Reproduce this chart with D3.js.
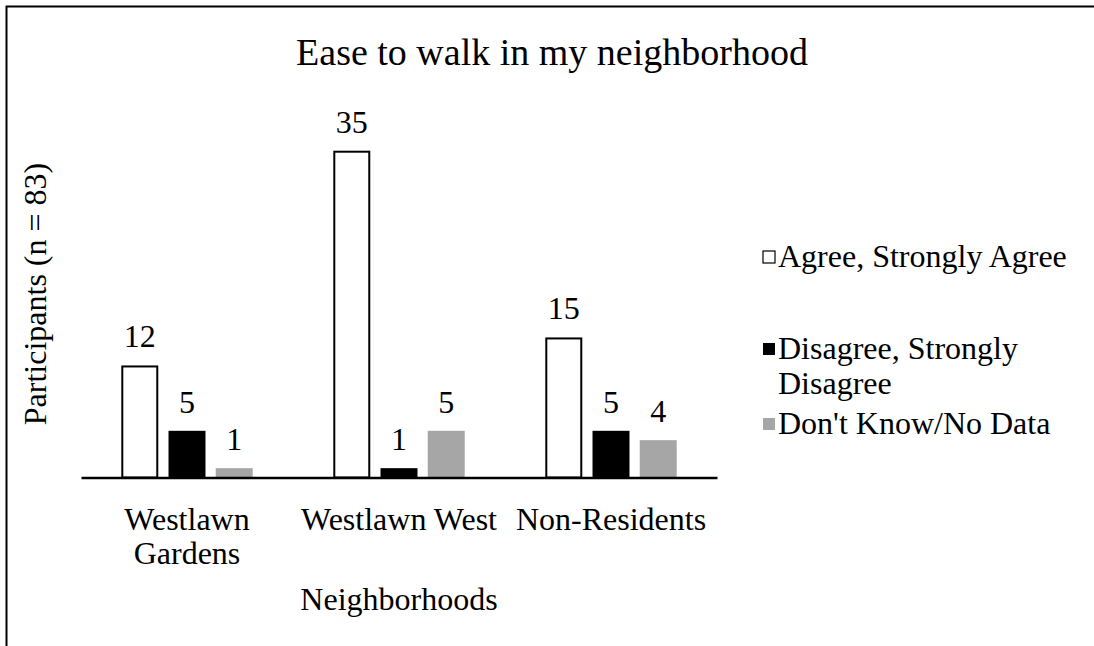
<!DOCTYPE html>
<html>
<head>
<meta charset="utf-8">
<script src="https://cdn.jsdelivr.net/npm/d3@7"></script>
<style>
  html, body { margin: 0; padding: 0; background: #fff; overflow: hidden; width: 1094px; height: 646px; }
  svg { display: block; position: absolute; left: 0; top: 0; }
</style>
</head>
<body>
<svg id="chart" width="1094" height="646"></svg>
<script>
const categories = [["Westlawn", "Gardens"], ["Westlawn West"], ["Non-Residents"]];
const seriesNames = ["Agree, Strongly Agree", "Disagree, Strongly Disagree", "Don't Know/No Data"];
const legendLines = [["Agree, Strongly Agree"], ["Disagree, Strongly", "Disagree"], ["Don't Know/No Data"]];
const agree = [12, 35, 15];
const disagree = [5, 1, 5];
const dontKnow = [1, 5, 4];
const title = "Ease to walk in my neighborhood";
const yTitle = "Participants (n = 83)";
const xTitle = "Neighborhoods";

const seriesValues = [agree, disagree, dontKnow];
const fills = ["#ffffff", "#000000", "#a6a6a6"];
const strokes = ["#000000", "none", "none"];
const FONT = "'Liberation Serif', 'Times New Roman', Times, 'DejaVu Serif', serif";
const FS = 32;

const svg = d3.select("#chart").attr("font-family", FONT);
const W = 1094, H = 646;

svg.append("rect").attr("x", 0).attr("y", 0).attr("width", W).attr("height", H).attr("fill", "#fff");

// Frame (only top and left edges visible)
svg.append("path").attr("d", `M6.5,${H + 5} L6.5,6.5 L${W + 5},6.5`)
  .attr("fill", "none").attr("stroke", "#000").attr("stroke-width", 2);

const catKeys = categories.map(c => c.join(" "));
const x0 = d3.scaleBand().domain(catKeys).range([81, 717]).paddingInner(0).paddingOuter(0);
const x1 = d3.scaleBand().domain(seriesNames).range([40.3, x0.bandwidth() - 40.3]).paddingInner(0.217).paddingOuter(0);
const y = d3.scaleLinear().domain([0, 35]).range([477.5, 150.7]);

// Bars
const groups = svg.append("g").selectAll("g").data(catKeys).join("g")
  .attr("transform", d => `translate(${x0(d)},0)`);

groups.each(function(cat, ci) {
  const g = d3.select(this);
  seriesNames.forEach((s, si) => {
    const v = seriesValues[si][ci];
    const isOutlined = strokes[si] !== "none";
    g.append("rect")
      .attr("x", x1(s) + (isOutlined ? 1 : 0))
      .attr("y", y(v) + (isOutlined ? 1 : 0))
      .attr("width", x1.bandwidth() - (isOutlined ? 2 : 0))
      .attr("height", y(0) - y(v) - (isOutlined ? 1 : 0))
      .attr("fill", fills[si])
      .attr("stroke", strokes[si])
      .attr("stroke-width", 2);
    g.append("text")
      .attr("x", x1(s) + x1.bandwidth() / 2)
      .attr("y", y(v) - 18)
      .attr("text-anchor", "middle")
      .attr("font-size", FS)
      .text(v);
  });
});

// X axis line
const xAxis = d3.axisBottom(x0).tickSize(0).tickFormat("");
const axG = svg.append("g").attr("transform", `translate(0,${y(0)})`).call(xAxis);
axG.select(".domain").attr("stroke", "#000").attr("stroke-width", 2.5);

// Category labels
categories.forEach((lines, i) => {
  const cx = x0(catKeys[i]) + x0.bandwidth() / 2;
  lines.forEach((ln, j) => {
    svg.append("text").attr("x", cx).attr("y", 530 + j * 34)
      .attr("text-anchor", "middle").attr("font-size", FS).text(ln);
  });
});

// Axis titles
svg.append("text").attr("x", 399).attr("y", 610).attr("text-anchor", "middle")
  .attr("font-size", FS).text(xTitle);
svg.append("text").attr("transform", "translate(46,294) rotate(-90)")
  .attr("text-anchor", "middle").attr("font-size", FS).text(yTitle);

// Title
svg.append("text").attr("x", 552).attr("y", 65).attr("text-anchor", "middle")
  .attr("font-size", 38).text(title);

// Legend
const legendY = [267, 359, 434];
legendLines.forEach((lines, i) => {
  svg.append("rect").attr("x", 763).attr("y", legendY[i] - 16).attr("width", 12).attr("height", 12)
    .attr("fill", fills[i]).attr("stroke", strokes[i] === "none" ? "none" : "#000").attr("stroke-width", 1.2);
  lines.forEach((ln, j) => {
    svg.append("text").attr("x", 778).attr("y", legendY[i] + j * 35)
      .attr("font-size", FS).text(ln);
  });
});
</script>
</body>
</html>
